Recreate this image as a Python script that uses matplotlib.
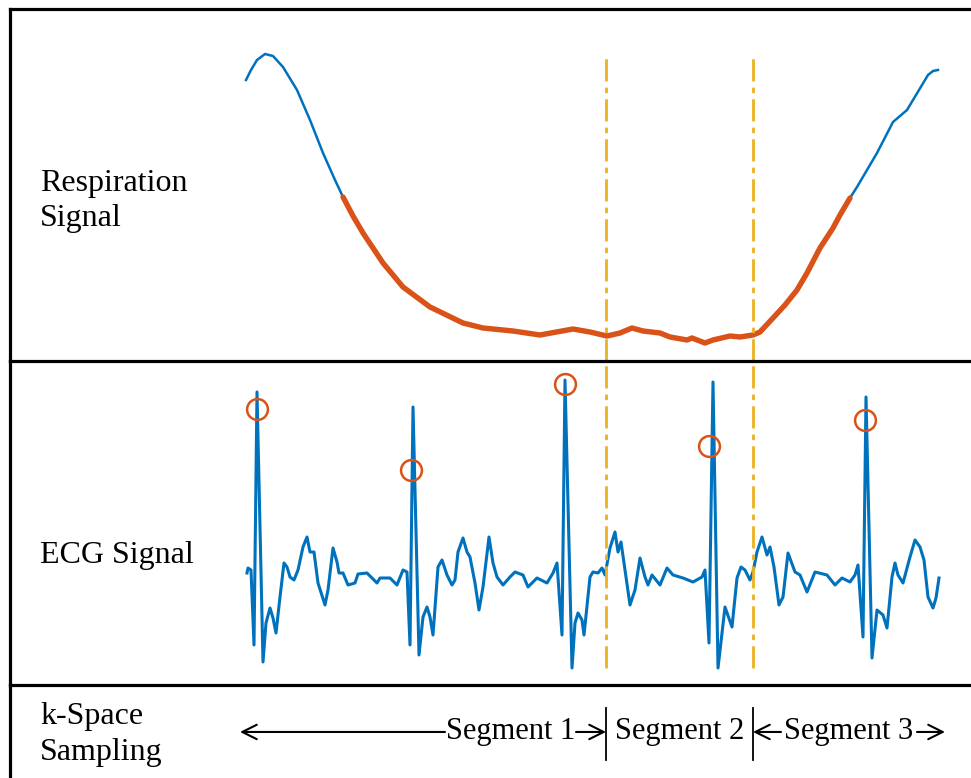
import matplotlib
matplotlib.use("Agg")
import matplotlib.pyplot as plt

plt.rcParams['font.family'] = ['Liberation Serif', 'DejaVu Serif']

# respiration trace (time in samples, amplitude in a.u.)
resp_t = [-1, 4, 10, 18, 26, 36, 50, 63, 76, 88, 96, 106, 116, 136, 156, 183, 216, 236,
          266, 293, 326, 343, 360, 373, 385, 396, 413, 423, 440, 445, 458, 466, 483, 493,
          506, 513, 526, 538, 550, 560, 573, 586, 593, 603, 610, 620, 630, 646, 660, 666,
          681, 686, 691]
resp_v = [281, 291, 301, 307, 305, 294, 271, 241, 208, 181, 164, 145, 128, 98, 74, 54, 38, 33,
          30, 26, 32, 29, 25, 28, 33, 30, 28, 24, 21, 23, 18, 21, 25, 24,
          26, 29, 43, 56, 71, 88, 113, 133, 146, 163, 174, 191, 208, 239, 251, 261,
          286, 290, 291]
gate_start = 96
gate_end = 603

# ECG trace
ecg_t = [0, 1, 4, 7, 10, 16, 19, 23, 26, 29, 33, 37, 40, 43, 47, 51, 56, 60, 63, 67, 71, 78,
         81, 86, 90, 92, 96, 101, 108, 111, 120, 130, 133, 143, 150, 156, 160,
         163, 166, 172, 176, 180, 183, 186, 191, 195, 200, 205, 208, 211, 216, 220, 223, 228,
         232, 236, 242, 246, 250, 256, 263, 268, 276, 281, 290, 300, 306, 310,
         315, 318, 325, 328, 331, 335, 337, 343, 346, 351, 355, 358, 363, 368, 371, 374, 378,
         383, 388, 393, 398, 401, 405, 413, 420, 426, 436, 446, 455, 458,
         462, 466, 471, 478, 485, 490, 494, 498, 503, 506, 510, 515, 520, 523, 527, 532, 536,
         541, 548, 553, 560, 568, 580, 588, 595, 603, 608, 611,
         616, 619, 625, 630, 636, 640, 645, 648, 651, 656, 663, 668, 673, 677, 681, 686, 689, 692]
ecg_v = [2, 7, 5, -70, 183, -87, -48, -33, -43, -58, -22, 12, 8, -2, -5, 5, 28, 38, 23, 23, -8, -30,
         -15, 27, 13, 2, 2, -10, -8, 1, 2, -8, -3, -3, -10, 5, 3,
         -70, 168, -80, -42, -32, -42, -60, 8, 15, 0, -10, -5, 23, 37, 23, 18, -8,
         -35, -12, 38, 12, -2, -10, -2, 3, 0, -12, -3, -8, 2, 12,
         -60, 195, -93, -48, -38, -45, -60, -2, 3, 2, 7, 0, 27, 43, 23, 33, 5,
         -30, -15, 17, -2, -10, 0, -10, 7, 0, -3, -7, -2, 5,
         -68, 193, -93, -32, -52, -3, 8, 5, -5, 3, 23, 38, 20, 28, 8, -30, -22,
         22, 3, 0, -17, 3, 0, -10, -3, -7, 0, 10,
         -62, 178, -83, -35, -40, -53, -2, 12, 0, -8, 18, 35, 28, 15, -22, -33, -23, -3]

# detected R-wave triggers
trig_t = [10, 164, 318, 462, 618]
trig_v = [166, 105, 191, 129, 155]

# k-space segments
seg_edges = [-7, 359, 506, 698]
seg_labels = ['Segment 1', 'Segment 2', 'Segment 3']

blue = '#0072BD'
orange = '#D95319'
yellow = '#EDB120'

fig = plt.figure(figsize=(9.71, 7.78), dpi=100)
L = 10 / 971
W = 975 / 971
ax_r = fig.add_axes([L, 1 - 361 / 778, W, 352 / 778])
ax_e = fig.add_axes([L, 1 - 685 / 778, W, 324 / 778])
ax_k = fig.add_axes([L, 0, W, 93 / 778])

for ax in (ax_r, ax_e, ax_k):
    ax.set_xlim(-237, 738)
    ax.set_xticks([])
    ax.set_yticks([])
    ax.patch.set_alpha(0)
    for s in ax.spines.values():
        s.set_linewidth(2.3)
        s.set_color('black')
    ax.spines['right'].set_visible(False)
ax_e.spines['top'].set_visible(False)
ax_k.spines['top'].set_visible(False)
ax_k.spines['bottom'].set_visible(False)

dash = (0, (8, 2.2, 2, 2.2))

# respiration
ax_r.set_ylim(0, 352)
ax_r.plot(resp_t, resp_v, color=blue, lw=1.8)
gt = [t for t in resp_t if gate_start <= t <= gate_end]
gv = [v for t, v in zip(resp_t, resp_v) if gate_start <= t <= gate_end]
ax_r.plot(gt, gv, color=orange, lw=3.9, solid_capstyle='round', solid_joinstyle='round')
for x in seg_edges[1:3]:
    ax_r.plot([x, x], [0, 306], color=yellow, lw=2, ls=dash)
ax_r.text(30 / 975, 0.455, 'Respiration\nSignal', transform=ax_r.transAxes,
          fontsize=23, va='center', ha='left', linespacing=1.3)

# ECG
ax_e.set_ylim(-110, 214)
ax_e.plot(ecg_t, ecg_v, color=blue, lw=2.2, solid_joinstyle='round')
ax_e.plot(trig_t, trig_v, 'o', ms=15, mfc='none', mec=orange, mew=1.8)
for x in seg_edges[1:3]:
    ax_e.plot([x, x], [-93, 214], color=yellow, lw=2, ls=dash)
ax_e.text(30 / 975, 0.40, 'ECG Signal', transform=ax_e.transAxes,
          fontsize=23, va='center', ha='left')

# k-space sampling
ax_k.set_ylim(0, 1)
ax_k.text(30 / 975, 0.47, 'k-Space\nSampling', transform=ax_k.transAxes,
          fontsize=23, va='center', ha='left', linespacing=1.3)
for x in seg_edges[1:3]:
    ax_k.plot([x, x], [0.19, 0.75], color='black', lw=1.3)
ay = 0.495
ap = dict(arrowstyle='->', lw=1.5, color='black', mutation_scale=26, shrinkA=0, shrinkB=0)
# segment 1
ax_k.annotate('', xy=(seg_edges[0], ay), xytext=(198, ay), arrowprops=ap)
ax_k.text(264, ay, seg_labels[0], fontsize=22, ha='center', va='center')
ax_k.annotate('', xy=(seg_edges[1], ay), xytext=(329, ay), arrowprops=ap)
# segment 2
ax_k.text((seg_edges[1] + seg_edges[2]) / 2, ay, seg_labels[1], fontsize=22, ha='center', va='center')
# segment 3
ax_k.annotate('', xy=(seg_edges[2], ay), xytext=(534, ay), arrowprops=ap)
ax_k.text(602, ay, seg_labels[2], fontsize=22, ha='center', va='center')
ax_k.annotate('', xy=(seg_edges[3], ay), xytext=(670, ay), arrowprops=ap)

fig.savefig('out.png', dpi=100)
